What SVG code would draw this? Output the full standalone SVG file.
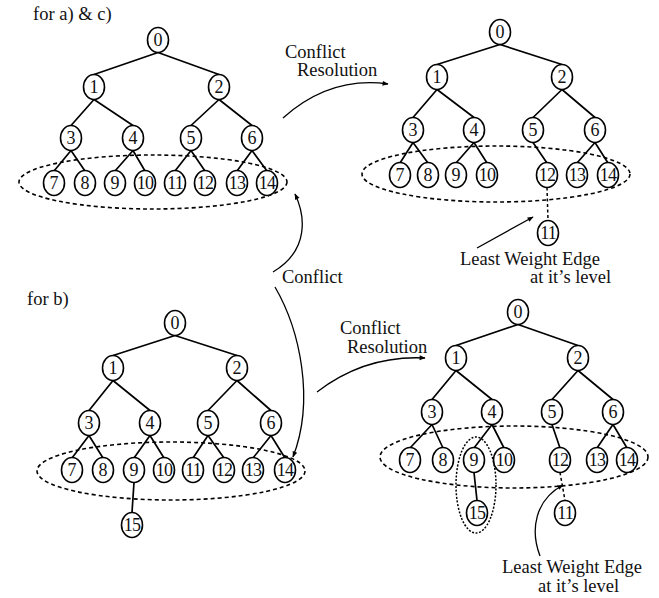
<svg xmlns="http://www.w3.org/2000/svg" width="659" height="598" viewBox="0 0 659 598">
  <style>
    .node ellipse { fill: #fff; stroke: #000; stroke-width: 1.6; }
    .node text { font-family: "Liberation Serif", "Times New Roman", serif; font-size: 18px; text-anchor: middle; fill: #111; }
    .node text.dd { letter-spacing: -0.8px; }
    .edge { stroke: #000; stroke-width: 1.7; fill: none; }
    .dash-edge { stroke: #000; stroke-width: 1.5; fill: none; stroke-dasharray: 3 2.5; }
    .level { fill: none; stroke: #000; stroke-width: 1.6; stroke-dasharray: 4 3; }
    .group { fill: none; stroke: #000; stroke-width: 1.5; stroke-dasharray: 2 1.6; }
    .curve { stroke: #000; stroke-width: 1.3; fill: none; }
    .label { font-family: "Liberation Serif", "Times New Roman", serif; font-size: 18.5px; fill: #111; }
  </style>
  <defs>
    <marker id="head" viewBox="0 0 10 10" refX="9" refY="5" markerWidth="8" markerHeight="6" markerUnits="userSpaceOnUse" orient="auto">
      <path d="M0,1 L10,5 L0,9 z" fill="#000"/>
    </marker>
  </defs>

  <!-- captions -->
  <text class="label" x="33" y="20">for a) &amp; c)</text>
  <text class="label" x="27" y="305">for b)</text>
  <text class="label" x="285" y="58">Conflict</text>
  <text class="label" x="297" y="76">Resolution</text>
  <text class="label" x="340" y="334">Conflict</text>
  <text class="label" x="347" y="353">Resolution</text>
  <text class="label" x="282" y="283">Conflict</text>
  <text class="label" x="460" y="265">Least Weight Edge</text>
  <text class="label" x="530" y="283">at it’s level</text>
  <text class="label" x="502" y="573">Least Weight Edge</text>
  <text class="label" x="538" y="592">at it’s level</text>

  <!-- level groupings -->
  <g id="levels">
    <ellipse class="level" cx="153" cy="182" rx="134" ry="27"/>
    <ellipse class="level" cx="496" cy="174" rx="134" ry="28"/>
    <ellipse class="level" cx="171" cy="471" rx="134" ry="29"/>
    <ellipse class="level" cx="514" cy="457" rx="134" ry="31"/>
    <ellipse class="group" cx="476" cy="485" rx="20" ry="48"/>
  </g>

  <!-- connectors -->
  <g id="connectors">
    <!-- tree A -->
    <path class="edge" d="M158,52.5 L94,74.5 M158,52.5 L219,74.5
      M94,99.5 L71,125.5 M94,99.5 L133,125.5 M219,99.5 L191,125.5 M219,99.5 L252,125.5
      M71,150.5 L54,171 M71,150.5 L85,171 M133,150.5 L115,171 M133,150.5 L145,171
      M191,150.5 L175,171 M191,150.5 L205,171 M252,150.5 L237,171 M252,150.5 L267,171"/>
    <!-- tree B -->
    <path class="edge" d="M500,44.5 L437,64.5 M500,44.5 L562,64.5
      M437,89.5 L413,117.5 M437,89.5 L474,117.5 M562,89.5 L533,117.5 M562,89.5 L595,117.5
      M413,142.5 L400,163 M413,142.5 L428,163 M474,142.5 L456,163 M474,142.5 L487,163
      M533,142.5 L547,163 M595,142.5 L577,163 M595,142.5 L608,163"/>
    <path class="dash-edge" d="M547,187.5 L548,220.5"/>
    <!-- tree C -->
    <path class="edge" d="M175,335.5 L113,355.5 M175,335.5 L237,355.5
      M113,380.5 L89,410.5 M113,380.5 L150,410.5 M237,380.5 L208,410.5 M237,380.5 L271,410.5
      M89,435.5 L72,458 M89,435.5 L103,458 M150,435.5 L134,458 M150,435.5 L164,458
      M208,435.5 L193,458 M208,435.5 L224,458 M271,435.5 L253,458 M271,435.5 L285,458
      M134,482.5 L132,512.5"/>
    <!-- tree D -->
    <path class="edge" d="M518,324.5 L456,345.5 M518,324.5 L578,345.5
      M456,370.5 L432,399.5 M456,370.5 L492,399.5 M578,370.5 L552,399.5 M578,370.5 L613,399.5
      M432,424.5 L410,448 M432,424.5 L443,448 M492,424.5 L474,448 M492,424.5 L504,448
      M552,424.5 L560,448 M613,424.5 L597,448 M613,424.5 L627,448
      M474,472.5 L477,500.5"/>
    <path class="dash-edge" d="M560,472.5 L565,500.5"/>

    <!-- annotation arrows -->
    <path class="curve" d="M283,118 Q330,76 388,84" marker-end="url(#head)"/>
    <path class="curve" d="M317,392 Q365,355 425,358" marker-end="url(#head)"/>
    <path class="curve" d="M273,272 C310,250 305,215 295,194" marker-end="url(#head)"/>
    <path class="curve" d="M275,287 C300,330 315,400 293,457" marker-end="url(#head)"/>
    <path class="curve" d="M477,248 L533,217" marker-end="url(#head)"/>
    <path class="curve" d="M540,556 C530,530 535,500 563,485" marker-end="url(#head)"/>
  </g>

  <!-- tree A nodes -->
  <g id="a0" class="node"><ellipse cx="158" cy="40" rx="10.5" ry="12.5"/><text x="158" y="46">0</text></g>
  <g id="a1" class="node"><ellipse cx="94" cy="87" rx="10.5" ry="12.5"/><text x="94" y="93">1</text></g>
  <g id="a2" class="node"><ellipse cx="219" cy="87" rx="10.5" ry="12.5"/><text x="219" y="93">2</text></g>
  <g id="a3" class="node"><ellipse cx="71" cy="138" rx="10.5" ry="12.5"/><text x="71" y="144">3</text></g>
  <g id="a4" class="node"><ellipse cx="133" cy="138" rx="10.5" ry="12.5"/><text x="133" y="144">4</text></g>
  <g id="a5" class="node"><ellipse cx="191" cy="138" rx="10.5" ry="12.5"/><text x="191" y="144">5</text></g>
  <g id="a6" class="node"><ellipse cx="252" cy="138" rx="10.5" ry="12.5"/><text x="252" y="144">6</text></g>
  <g id="a7" class="node"><ellipse cx="54" cy="183" rx="10.5" ry="12.5"/><text x="54" y="189">7</text></g>
  <g id="a8" class="node"><ellipse cx="85" cy="183" rx="10.5" ry="12.5"/><text x="85" y="189">8</text></g>
  <g id="a9" class="node"><ellipse cx="115" cy="183" rx="10.5" ry="12.5"/><text x="115" y="189">9</text></g>
  <g id="a10" class="node"><ellipse cx="145" cy="183" rx="10.5" ry="12.5"/><text class="dd" x="145" y="189">10</text></g>
  <g id="a11" class="node"><ellipse cx="175" cy="183" rx="10.5" ry="12.5"/><text class="dd" x="175" y="189">11</text></g>
  <g id="a12" class="node"><ellipse cx="205" cy="183" rx="10.5" ry="12.5"/><text class="dd" x="205" y="189">12</text></g>
  <g id="a13" class="node"><ellipse cx="237" cy="183" rx="10.5" ry="12.5"/><text class="dd" x="237" y="189">13</text></g>
  <g id="a14" class="node"><ellipse cx="267" cy="183" rx="10.5" ry="12.5"/><text class="dd" x="267" y="189">14</text></g>

  <!-- tree B nodes -->
  <g id="b0" class="node"><ellipse cx="500" cy="32" rx="10.5" ry="12.5"/><text x="500" y="38">0</text></g>
  <g id="b1" class="node"><ellipse cx="437" cy="77" rx="10.5" ry="12.5"/><text x="437" y="83">1</text></g>
  <g id="b2" class="node"><ellipse cx="562" cy="77" rx="10.5" ry="12.5"/><text x="562" y="83">2</text></g>
  <g id="b3" class="node"><ellipse cx="413" cy="130" rx="10.5" ry="12.5"/><text x="413" y="136">3</text></g>
  <g id="b4" class="node"><ellipse cx="474" cy="130" rx="10.5" ry="12.5"/><text x="474" y="136">4</text></g>
  <g id="b5" class="node"><ellipse cx="533" cy="130" rx="10.5" ry="12.5"/><text x="533" y="136">5</text></g>
  <g id="b6" class="node"><ellipse cx="595" cy="130" rx="10.5" ry="12.5"/><text x="595" y="136">6</text></g>
  <g id="b7" class="node"><ellipse cx="400" cy="175" rx="10.5" ry="12.5"/><text x="400" y="181">7</text></g>
  <g id="b8" class="node"><ellipse cx="428" cy="175" rx="10.5" ry="12.5"/><text x="428" y="181">8</text></g>
  <g id="b9" class="node"><ellipse cx="456" cy="175" rx="10.5" ry="12.5"/><text x="456" y="181">9</text></g>
  <g id="b10" class="node"><ellipse cx="487" cy="175" rx="10.5" ry="12.5"/><text class="dd" x="487" y="181">10</text></g>
  <g id="b12" class="node"><ellipse cx="547" cy="175" rx="10.5" ry="12.5"/><text class="dd" x="547" y="181">12</text></g>
  <g id="b13" class="node"><ellipse cx="577" cy="175" rx="10.5" ry="12.5"/><text class="dd" x="577" y="181">13</text></g>
  <g id="b14" class="node"><ellipse cx="608" cy="175" rx="10.5" ry="12.5"/><text class="dd" x="608" y="181">14</text></g>
  <g id="b11" class="node"><ellipse cx="548" cy="233" rx="10.5" ry="12.5"/><text class="dd" x="548" y="239">11</text></g>

  <!-- tree C nodes -->
  <g id="c0" class="node"><ellipse cx="175" cy="323" rx="10.5" ry="12.5"/><text x="175" y="329">0</text></g>
  <g id="c1" class="node"><ellipse cx="113" cy="368" rx="10.5" ry="12.5"/><text x="113" y="374">1</text></g>
  <g id="c2" class="node"><ellipse cx="237" cy="368" rx="10.5" ry="12.5"/><text x="237" y="374">2</text></g>
  <g id="c3" class="node"><ellipse cx="89" cy="423" rx="10.5" ry="12.5"/><text x="89" y="429">3</text></g>
  <g id="c4" class="node"><ellipse cx="150" cy="423" rx="10.5" ry="12.5"/><text x="150" y="429">4</text></g>
  <g id="c5" class="node"><ellipse cx="208" cy="423" rx="10.5" ry="12.5"/><text x="208" y="429">5</text></g>
  <g id="c6" class="node"><ellipse cx="271" cy="423" rx="10.5" ry="12.5"/><text x="271" y="429">6</text></g>
  <g id="c7" class="node"><ellipse cx="72" cy="470" rx="10.5" ry="12.5"/><text x="72" y="476">7</text></g>
  <g id="c8" class="node"><ellipse cx="103" cy="470" rx="10.5" ry="12.5"/><text x="103" y="476">8</text></g>
  <g id="c9" class="node"><ellipse cx="134" cy="470" rx="10.5" ry="12.5"/><text x="134" y="476">9</text></g>
  <g id="c10" class="node"><ellipse cx="164" cy="470" rx="10.5" ry="12.5"/><text class="dd" x="164" y="476">10</text></g>
  <g id="c11" class="node"><ellipse cx="193" cy="470" rx="10.5" ry="12.5"/><text class="dd" x="193" y="476">11</text></g>
  <g id="c12" class="node"><ellipse cx="224" cy="470" rx="10.5" ry="12.5"/><text class="dd" x="224" y="476">12</text></g>
  <g id="c13" class="node"><ellipse cx="253" cy="470" rx="10.5" ry="12.5"/><text class="dd" x="253" y="476">13</text></g>
  <g id="c14" class="node"><ellipse cx="285" cy="470" rx="10.5" ry="12.5"/><text class="dd" x="285" y="476">14</text></g>
  <g id="c15" class="node"><ellipse cx="132" cy="525" rx="10.5" ry="12.5"/><text class="dd" x="132" y="531">15</text></g>

  <!-- tree D nodes -->
  <g id="d0" class="node"><ellipse cx="518" cy="312" rx="10.5" ry="12.5"/><text x="518" y="318">0</text></g>
  <g id="d1" class="node"><ellipse cx="456" cy="358" rx="10.5" ry="12.5"/><text x="456" y="364">1</text></g>
  <g id="d2" class="node"><ellipse cx="578" cy="358" rx="10.5" ry="12.5"/><text x="578" y="364">2</text></g>
  <g id="d3" class="node"><ellipse cx="432" cy="412" rx="10.5" ry="12.5"/><text x="432" y="418">3</text></g>
  <g id="d4" class="node"><ellipse cx="492" cy="412" rx="10.5" ry="12.5"/><text x="492" y="418">4</text></g>
  <g id="d5" class="node"><ellipse cx="552" cy="412" rx="10.5" ry="12.5"/><text x="552" y="418">5</text></g>
  <g id="d6" class="node"><ellipse cx="613" cy="412" rx="10.5" ry="12.5"/><text x="613" y="418">6</text></g>
  <g id="d7" class="node"><ellipse cx="410" cy="460" rx="10.5" ry="12.5"/><text x="410" y="466">7</text></g>
  <g id="d8" class="node"><ellipse cx="443" cy="460" rx="10.5" ry="12.5"/><text x="443" y="466">8</text></g>
  <g id="d9" class="node"><ellipse cx="474" cy="460" rx="10.5" ry="12.5"/><text x="474" y="466">9</text></g>
  <g id="d10" class="node"><ellipse cx="504" cy="460" rx="10.5" ry="12.5"/><text class="dd" x="504" y="466">10</text></g>
  <g id="d12" class="node"><ellipse cx="560" cy="460" rx="10.5" ry="12.5"/><text class="dd" x="560" y="466">12</text></g>
  <g id="d13" class="node"><ellipse cx="597" cy="460" rx="10.5" ry="12.5"/><text class="dd" x="597" y="466">13</text></g>
  <g id="d14" class="node"><ellipse cx="627" cy="460" rx="10.5" ry="12.5"/><text class="dd" x="627" y="466">14</text></g>
  <g id="d15" class="node"><ellipse cx="477" cy="513" rx="10.5" ry="12.5"/><text class="dd" x="477" y="519">15</text></g>
  <g id="d11" class="node"><ellipse cx="565" cy="513" rx="10.5" ry="12.5"/><text class="dd" x="565" y="519">11</text></g>
</svg>
